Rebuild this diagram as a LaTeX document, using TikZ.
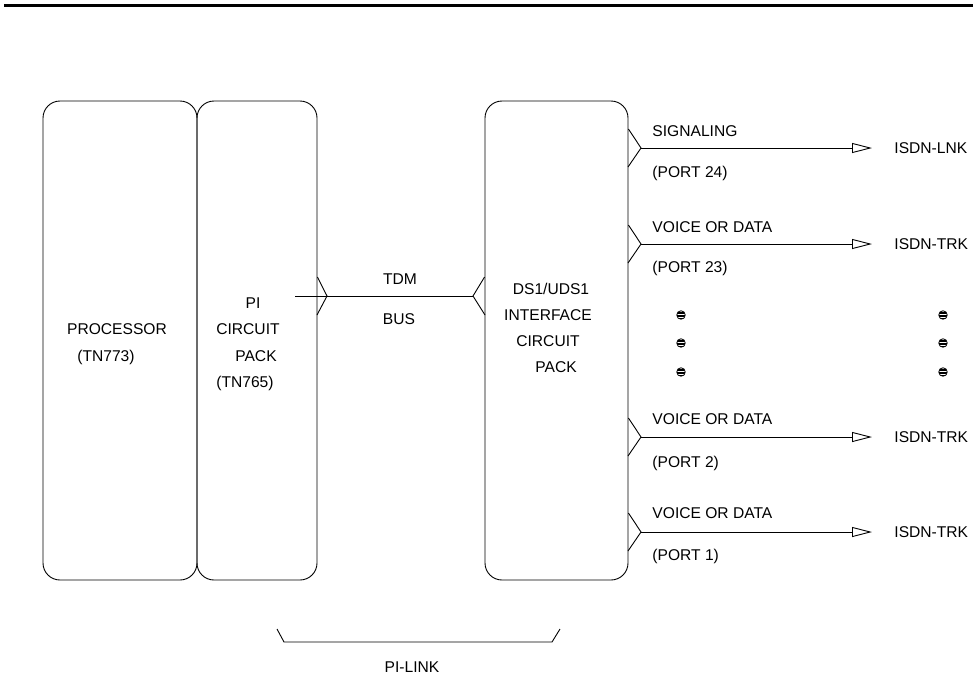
\documentclass[tikz,border=0pt]{standalone}
\usepackage{fontspec}
\setmainfont{Liberation Sans}
\usetikzlibrary{arrows.meta}

\begin{document}
\begin{tikzpicture}[x={(1pt,0pt)},y={(0pt,-1pt)},line width=0.9pt,
    every node/.style={font=\fontsize{15.6}{18}\selectfont,inner sep=0pt,text height=11.2pt,text depth=0pt},
    card/.style={draw,rounded corners=17pt,minimum height=479pt},
    port/.style={-{Triangle[open,length=20pt,width=10pt]},shorten >=22pt},
    pip/.style={circle,draw,line width=0.8pt,minimum size=8.5pt,text height=0pt,path picture={
        \foreach \k in {-2,...,2}
            \draw[line width=0.6pt] ([yshift=\k*1.6pt]path picture bounding box.west) -- ([yshift=\k*1.6pt]path picture bounding box.east);}}]
    \useasboundingbox (0,0) rectangle (977,678);
    \draw[line width=3.8pt] (4,5.5) -- (973,5.5);
    \node[card,minimum width=154pt] (proc) at (120,340.5) {};
    \node[card,minimum width=120pt] (pi) at (257,340.5) {};
    \node[card,minimum width=143pt] (ds) at (556.5,340.5) {};
    \node (procname) at (117,329) {PROCESSOR};
    \node (proccode) at (106,356) {(TN773)};
    \node (piname1) at (253,303) {PI};
    \node (piname2) at (248,329) {CIRCUIT};
    \node (piname3) at (256,356) {PACK};
    \node (picode) at (245,382) {(TN765)};
    \node (dsname1) at (551,289) {DS1/UDS1};
    \node (dsname2) at (548,315) {INTERFACE};
    \node (dsname3) at (548,341) {CIRCUIT};
    \node (dsname4) at (556,367) {PACK};
    \coordinate (busS) at (295,296);
    \coordinate (busL) at (327,296);
    \coordinate (busR) at (473,296);
    \draw (busS) -- (busR);
    \draw (pi.east |- busL) ++(0,-19) -- (busL) -- ++(-10,19);
    \draw (ds.west |- busR) ++(0,-19) -- (busR) -- ++(12,19);
    \node (tdm) at (400,279) {TDM};
    \node (bus) at (399,319) {BUS};
    \foreach \y/\ya/\yb/\top/\bot/\dest [count=\i] in {
        148/131/172/SIGNALING/{(PORT 24)}/ISDN-LNK,
        244/227/267/VOICE OR DATA/{(PORT 23)}/ISDN-TRK,
        437/419/462/VOICE OR DATA/{(PORT 2)}/ISDN-TRK,
        532/513/555/VOICE OR DATA/{(PORT 1)}/ISDN-TRK} {
        \coordinate (tap\i) at (641,\y);
        \draw (tap\i -| ds.east) ++(0,-19) -- (tap\i) -- ++(-13,19);
        \node[anchor=west] (use\i) at (652,\ya) {\top};
        \node[anchor=west] (num\i) at (652,\yb) {\bot};
        \node[anchor=west] (dest\i) at (894,\y) {\dest};
        \draw[port] (tap\i) -- (dest\i.west);
    }
    \foreach \px in {681,943}
        \foreach \py [count=\j] in {315,343,372}
            \node[pip] (pip\px-\j) at (\px,\py) {};
    \coordinate (brL) at (277,629);
    \coordinate (brR) at (560,629);
    \draw (brL) -- ++(7,13) -- (552,642) -- (brR);
    \node (pilink) at (412,667) {PI-LINK};
\end{tikzpicture}
\end{document}
